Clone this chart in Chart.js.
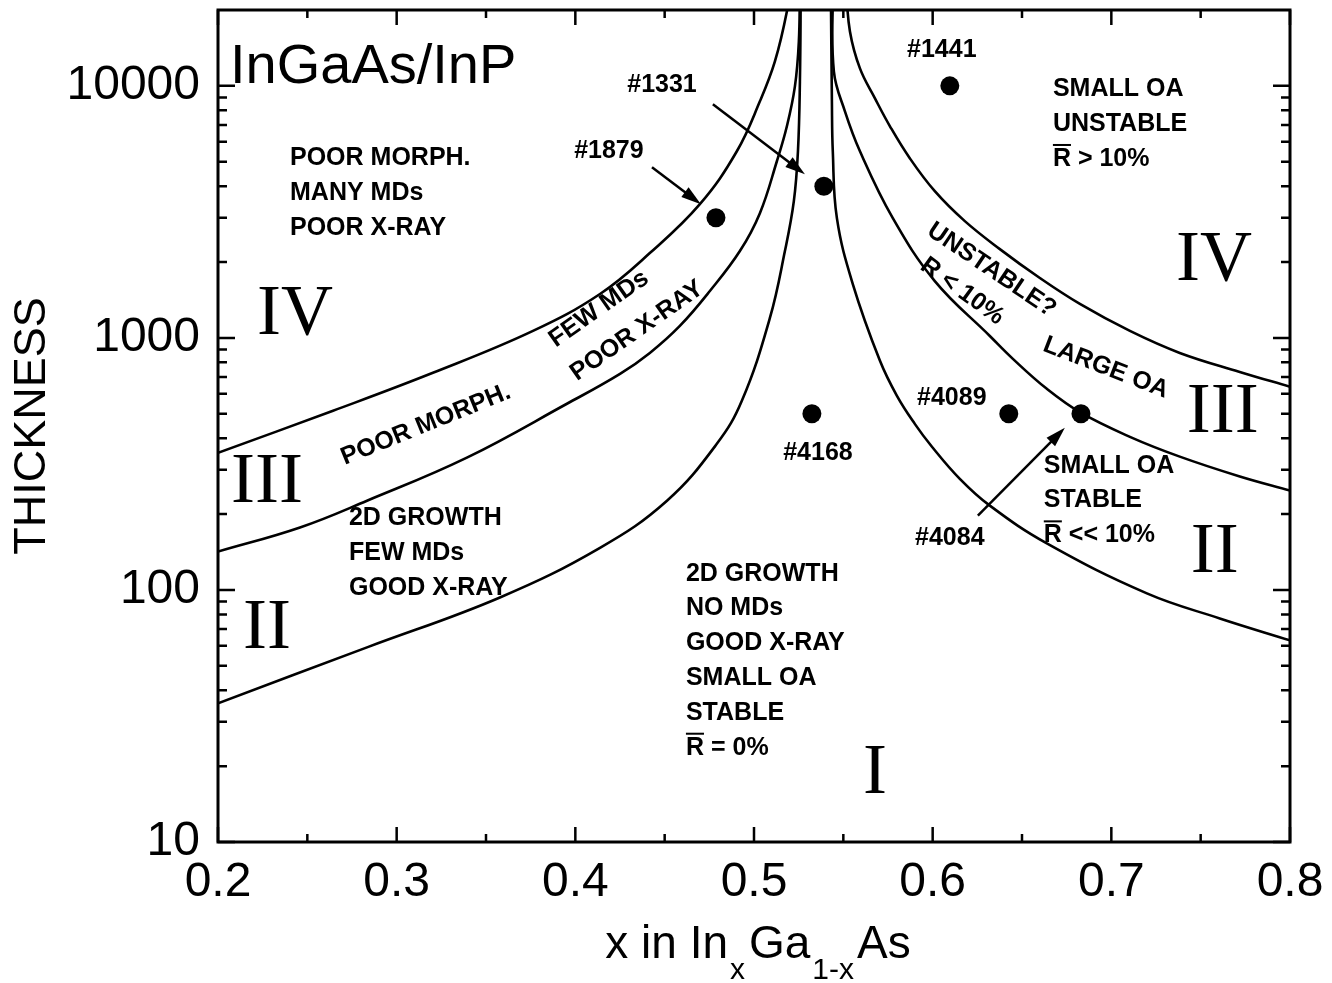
<!DOCTYPE html>
<html>
<head>
<meta charset="utf-8">
<title>InGaAs/InP critical thickness</title>
<script src="https://cdn.jsdelivr.net/npm/chart.js@4.4.1/dist/chart.umd.min.js"></script>
<style>
  html, body { margin: 0; padding: 0; background: #fff; }
  canvas { display: block; }
</style>
</head>
<body>
<canvas id="chart" width="1332" height="983"></canvas>
<script>
// axis ticks
const xTicks = [0.2, 0.3, 0.4, 0.5, 0.6, 0.7, 0.8];
const yTicks = [10, 100, 1000, 10000];

// boundary curves, left of lattice match
const curveAx = [0.200, 0.2644, 0.3203, 0.3763, 0.4138, 0.4417, 0.4697, 0.4904, 0.5033, 0.5117, 0.5184, 0.5201];
const curveAy = [350, 514, 727, 1066, 1494, 2171, 3394, 5503, 8682, 12500, 19720, 25000];
const curveBx = [0.200, 0.2459, 0.2834, 0.3393, 0.3953, 0.4250, 0.4417, 0.4585, 0.4753, 0.4921, 0.5033, 0.5128, 0.5184, 0.5229, 0.5251, 0.5257];
const curveBy = [142, 177, 226, 335, 548, 720, 872, 1116, 1535, 2211, 3126, 5023, 6913, 9954, 15000, 25000];
const curveCx = [0.200, 0.2834, 0.3578, 0.4138, 0.4513, 0.4792, 0.4932, 0.5089, 0.5173, 0.5223, 0.5246, 0.5257, 0.5262];
const curveCy = [35.5, 59.2, 93.4, 147, 226, 380, 563, 1200, 2211, 3488, 5503, 10420, 25000];

// boundary curves, right of lattice match
const curveRCx = [0.5430, 0.5436, 0.5441, 0.5464, 0.5553, 0.5705, 0.5800, 0.5900, 0.5996, 0.6152, 0.6320, 0.6639, 0.7199, 0.7607, 0.8];
const curveRCy = [25000, 8682, 5503, 2987, 1636, 811, 589, 456, 370, 276, 216, 153, 96.9, 77.1, 63.1];
const curveRBx = [0.5441, 0.5447, 0.5509, 0.5593, 0.5777, 0.6012, 0.6320, 0.6449, 0.6639, 0.6829, 0.7104, 0.7383, 0.7719, 0.8];
const curveRBy = [25000, 11410, 7925, 5503, 2987, 1681, 1018, 826, 628, 505, 405, 338, 282, 248];
const curveRAx = [0.5514, 0.5537, 0.5593, 0.5677, 0.5761, 0.5872, 0.6012, 0.6180, 0.6376, 0.6600, 0.6824, 0.7104, 0.7383, 0.7719, 0.8];
const curveRAy = [25000, 16440, 11730, 8922, 6913, 5163, 3821, 2906, 2251, 1728, 1364, 1066, 872, 733, 640];

// samples
const sampleNames = ['#1441', '#1331', '#1879', '#4168', '#4089', '#4084'];
const sampleX = [0.6096, 0.5391, 0.4787, 0.5324, 0.6426, 0.683];
const sampleY = [10000, 4000, 3000, 500, 500, 500];

// text placed on the plot (data coordinates)
const sampleLabelX = [0.6051, 0.4485, 0.4188, 0.5358, 0.6107, 0.6096];
const sampleLabelY = [13820, 10046, 5503, 350, 578, 160];

const blocks = [
  {x: 0.2403, y: 5163, lines: ['POOR MORPH.', 'MANY MDs', 'POOR X-RAY']},
  {x: 0.6673, y: 9685, lines: ['SMALL OA', 'UNSTABLE', 'R > 10%']},
  {x: 0.2733, y: 192, lines: ['2D GROWTH', 'FEW MDs', 'GOOD X-RAY']},
  {x: 0.4619, y: 116, lines: ['2D GROWTH', 'NO MDs', 'GOOD X-RAY', 'SMALL OA', 'STABLE', 'R = 0%']},
  {x: 0.6622, y: 311, lines: ['SMALL OA', 'STABLE', 'R << 10%']}
];

const slanted = [
  {t: 'POOR MORPH.', x: 0.3164, y: 452, a: -22},
  {t: 'FEW MDs', x: 0.4132, y: 1303, a: -35},
  {t: 'POOR X-RAY', x: 0.4345, y: 1066, a: -35},
  {t: 'UNSTABLE?', x: 0.6330, y: 1860, a: 34},
  {t: 'R < 10%', x: 0.6165, y: 1530, a: 36},
  {t: 'LARGE OA', x: 0.6969, y: 761, a: 21}
];

const regions = [
  {t: 'IV', x: 0.2431, y: 1234}, {t: 'III', x: 0.2274, y: 266.6}, {t: 'II', x: 0.2274, y: 69.7},
  {t: 'I', x: 0.5677, y: 18.6},
  {t: 'IV', x: 0.7574, y: 2018}, {t: 'III', x: 0.7624, y: 505}, {t: 'II', x: 0.7579, y: 139.5}
];

const arrows = [
  {from: [0.4429, 4755], to: [0.4703, 3394]},
  {from: [0.4770, 8447], to: [0.5285, 4462]},
  {from: [0.6253, 197], to: [0.6740, 440]}
];

const SANS = '"Liberation Sans", Arial, Helvetica, sans-serif';
const SERIF = '"Liberation Serif", "Times New Roman", serif';

function pts(xs, ys) {
  return xs.map((x, i) => ({x: x, y: ys[i]}));
}

function curve(xs, ys) {
  return {
    data: pts(xs, ys),
    showLine: true,
    borderColor: '#000',
    borderWidth: 2.6,
    pointRadius: 0,
    tension: 0.4,
    capBezierPoints: false,
    fill: false
  };
}

const overlay = {
  id: 'overlay',
  afterDatasetsDraw(chart) {
    const {ctx, chartArea: a, scales: {x: sx, y: sy}} = chart;
    const px = v => sx.getPixelForValue(v);
    const py = v => sy.getPixelForValue(v);
    ctx.save();
    ctx.fillStyle = '#000';
    ctx.strokeStyle = '#000';

    // frame
    ctx.lineWidth = 3;
    ctx.strokeRect(a.left, a.top, a.right - a.left, a.bottom - a.top);

    // inward ticks on all four sides
    ctx.lineWidth = 2.5;
    ctx.beginPath();
    const xMinor = xTicks.slice(1).map((v, i) => (v + xTicks[i]) / 2);
    const vTick = (v, len) => {
      const X = px(v);
      ctx.moveTo(X, a.bottom); ctx.lineTo(X, a.bottom - len);
      ctx.moveTo(X, a.top); ctx.lineTo(X, a.top + len);
    };
    xTicks.forEach(v => vTick(v, 15));
    xMinor.forEach(v => vTick(v, 8));
    const hTick = (v, len) => {
      const Y = py(v);
      ctx.moveTo(a.left, Y); ctx.lineTo(a.left + len, Y);
      ctx.moveTo(a.right, Y); ctx.lineTo(a.right - len, Y);
    };
    yTicks.forEach(v => hTick(v, 17));
    yTicks.forEach(d => [2, 3, 4, 5, 6, 7, 8, 9].forEach(m => {
      if (d * m < sy.max) hTick(d * m, 9);
    }));
    ctx.stroke();

    // title
    ctx.font = '56px ' + SANS;
    ctx.textAlign = 'left';
    ctx.textBaseline = 'alphabetic';
    ctx.fillText('InGaAs/InP', px(0.2067), py(10230));

    // region descriptions
    ctx.font = 'bold 25px ' + SANS;
    ctx.textBaseline = 'middle';
    blocks.forEach(b => b.lines.forEach((s, i) => {
      const X = px(b.x), Y = py(b.y) + i * 34.8;
      ctx.fillText(s, X, Y);
      if (s.startsWith('R ')) {
        ctx.fillRect(X, Y - 15, ctx.measureText('R').width, 2);
      }
    }));

    ctx.textAlign = 'center';
    sampleNames.forEach((n, i) => ctx.fillText(n, px(sampleLabelX[i]), py(sampleLabelY[i])));

    slanted.forEach(s => {
      ctx.save();
      ctx.translate(px(s.x), py(s.y));
      ctx.rotate(s.a * Math.PI / 180);
      ctx.fillText(s.t, 0, 0);
      ctx.restore();
    });

    // roman numerals
    ctx.font = '72px ' + SERIF;
    regions.forEach(r => ctx.fillText(r.t, px(r.x), py(r.y)));

    // arrows
    ctx.lineWidth = 2.5;
    arrows.forEach(ar => {
      const x0 = px(ar.from[0]), y0 = py(ar.from[1]);
      const x1 = px(ar.to[0]), y1 = py(ar.to[1]);
      const ang = Math.atan2(y1 - y0, x1 - x0);
      const c = Math.cos(ang), s = Math.sin(ang);
      ctx.beginPath();
      ctx.moveTo(x0, y0);
      ctx.lineTo(x1 - 12 * c, y1 - 12 * s);
      ctx.stroke();
      ctx.beginPath();
      ctx.moveTo(x1, y1);
      ctx.lineTo(x1 - 20 * c + 6 * s, y1 - 20 * s - 6 * c);
      ctx.lineTo(x1 - 20 * c - 6 * s, y1 - 20 * s + 6 * c);
      ctx.closePath();
      ctx.fill();
    });

    // x axis title with subscripts
    const big = '46px ' + SANS, small = '30px ' + SANS;
    const parts = [['x in In', big, 0, 2], ['x', small, 21, 4], ['Ga', big, 0, 2], ['1-x', small, 21, 3], ['As', big, 0, 0]];
    let total = 0;
    parts.forEach(p => { ctx.font = p[1]; total += ctx.measureText(p[0]).width + p[3]; });
    let cx = (a.left + a.right) / 2 - total / 2 + 4;
    ctx.textAlign = 'left';
    ctx.textBaseline = 'alphabetic';
    parts.forEach(p => {
      ctx.font = p[1];
      ctx.fillText(p[0], cx, 958 + p[2]);
      cx += ctx.measureText(p[0]).width + p[3];
    });
    ctx.restore();
  }
};

new Chart(document.getElementById('chart').getContext('2d'), {
  type: 'scatter',
  data: {
    datasets: [
      curve(curveAx, curveAy),
      curve(curveBx, curveBy),
      curve(curveCx, curveCy),
      curve(curveRCx, curveRCy),
      curve(curveRBx, curveRBy),
      curve(curveRAx, curveRAy),
      {
        data: pts(sampleX, sampleY),
        pointRadius: 9.5,
        pointBackgroundColor: '#000',
        pointBorderWidth: 0,
        showLine: false
      }
    ]
  },
  options: {
    responsive: false,
    animation: false,
    devicePixelRatio: 1,
    layout: {padding: {left: 0, right: 42, top: 10, bottom: 0}},
    plugins: {legend: {display: false}, tooltip: {enabled: false}},
    scales: {
      x: {
        type: 'linear',
        min: 0.2,
        max: 0.8,
        grid: {display: false, drawTicks: false},
        border: {display: false},
        afterBuildTicks: s => { s.ticks = xTicks.map(v => ({value: v})); },
        afterFit: s => { s.height = 141; s.paddingLeft = 0; s.paddingRight = 0; },
        ticks: {
          color: '#000',
          padding: 12,
          maxRotation: 0,
          font: {family: 'Liberation Sans', size: 48},
          callback: v => v.toFixed(1)
        }
      },
      y: {
        type: 'logarithmic',
        min: 10,
        max: 20000,
        grid: {display: false, drawTicks: false},
        border: {display: false},
        afterBuildTicks: s => { s.ticks = yTicks.map(v => ({value: v})); },
        afterFit: s => { s.width = 218; s.paddingTop = 0; s.paddingBottom = 0; },
        title: {
          display: true,
          text: 'THICKNESS',
          color: '#000',
          font: {family: 'Liberation Sans', size: 45},
          padding: {top: 6, bottom: 0}
        },
        ticks: {
          color: '#000',
          padding: 18,
          font: {family: 'Liberation Sans', size: 48},
          callback: v => String(v)
        }
      }
    }
  },
  plugins: [overlay]
});
</script>
</body>
</html>
